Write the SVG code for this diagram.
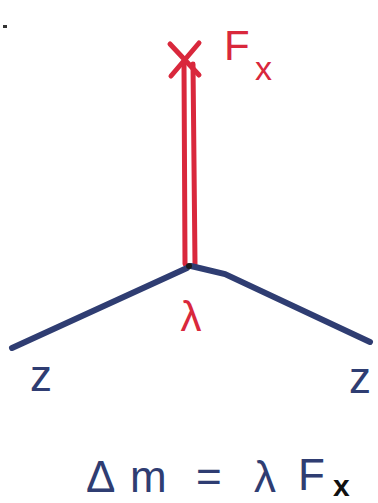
<svg xmlns="http://www.w3.org/2000/svg" width="378" height="503" viewBox="0 0 378 503">
<style>
.red{stroke:#d9283c;fill:none;stroke-width:5;stroke-linecap:round}
.blue{stroke:#2f3d72;fill:none;stroke-width:6;stroke-linecap:round}
.tr{fill:#d9283c;font-family:"Liberation Sans",sans-serif}
.tb{fill:#2f3d72;font-family:"Liberation Sans",sans-serif;font-size:44px}
</style>
<rect width="378" height="503" fill="#fff"/>
<rect x="3" y="25" width="4" height="3" fill="#333"/>
<g id="connectors">
<path class="red" d="M184 64 L185 264"/>
<path class="red" d="M193 64 L195 264"/>
<path class="blue" d="M187 268 L12 348"/>
<path class="blue" d="M191 266 L225 274 L370 342"/>
</g>
<g id="source">
<path class="red" d="M170 44 L199 75 M199 43 L171 76"/>
<text class="tr" x="224" y="60" font-size="42">F</text>
<text class="tr" x="255" y="80" font-size="34">x</text>
</g>
<g id="vertex">
<circle cx="189" cy="266" r="3" fill="#1a1a1a"/>
<text class="tr" x="191" y="331" font-size="42" text-anchor="middle">λ</text>
</g>
<g id="z-left">
<text class="tb" x="41" y="391" text-anchor="middle">z</text>
</g>
<g id="z-right">
<text class="tb" x="360" y="393" text-anchor="middle">z</text>
</g>
<g id="equation">
<text class="tb" x="86" y="492">Δ</text>
<text class="tb" x="130" y="492">m</text>
<text class="tb" x="196" y="492">=</text>
<text class="tb" x="254" y="492">λ</text>
<text class="tb" x="298" y="490">F</text>
<text x="333" y="496" font-size="30" fill="#111" font-family="Liberation Sans,sans-serif" font-weight="bold">x</text>
</g>
</svg>
